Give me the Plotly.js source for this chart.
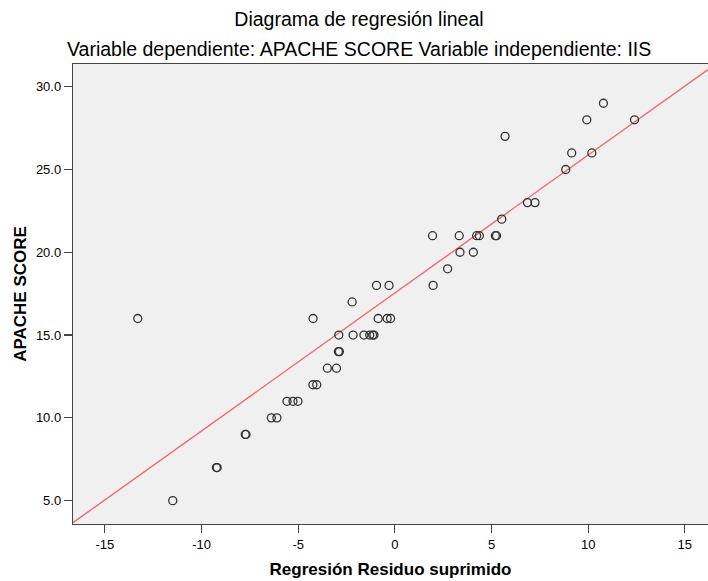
<!DOCTYPE html>
<html>
<head>
<meta charset="utf-8">
<script src="https://cdn.plot.ly/plotly-3.0.1.min.js"></script>
<style>
  html, body { margin: 0; padding: 0; background: #ffffff; }
  #chart { width: 708px; height: 581px; }
</style>
</head>
<body>
<div id="chart"></div>
<script>
// Suppressed (deleted) residual of the regression, per patient
const residuoSuprimido = [
  10.79,
  9.93, 12.40,
  5.70,
  9.15, 10.19,
  8.84,
  6.86, 7.25,
  5.53,
  1.95, 3.33, 4.23, 4.37, 5.20, 5.26,
  3.37, 4.06,
  2.73,
  -0.95, -0.30, 1.98,
  -2.21,
  -13.30, -4.23, -0.86, -0.40, -0.22,
  -2.90, -2.16, -1.60, -1.30, -1.15, -1.08,
  -2.92, -2.87,
  -3.49, -3.02,
  -4.24, -4.04,
  -5.58, -5.27, -5.01,
  -6.39, -6.10,
  -7.74, -7.70,
  -9.23, -9.19,
  -11.49
];

// APACHE score of the same patients
const apacheScore = [
  29,
  28, 28,
  27,
  26, 26,
  25,
  23, 23,
  22,
  21, 21, 21, 21, 21, 21,
  20, 20,
  19,
  18, 18, 18,
  17,
  16, 16, 16, 16, 16,
  15, 15, 15, 15, 15, 15,
  14, 14,
  13, 13,
  12, 12,
  11, 11, 11,
  10, 10,
  9, 9,
  7, 7,
  5
];

// Fitted line: APACHE SCORE = intercept + slope * residual
const ajusteIntercepto = 17.54;
const ajustePendiente = 0.833;

const xTicks = [-15, -10, -5, 0, 5, 10, 15];
const yTicks = [5, 10, 15, 20, 25, 30];

const xRange = [-16.65, 16.2];
const yRange = [3.59, 31.37];

const lineX = xRange.slice();
const lineY = lineX.map(v => ajusteIntercepto + ajustePendiente * v);

const fontFamily = '"Liberation Sans", Arial, sans-serif';

const traces = [
  {
    type: 'scatter',
    mode: 'lines',
    x: lineX,
    y: lineY,
    line: { color: '#f06a6a', width: 1.4 },
    hoverinfo: 'skip',
    showlegend: false
  },
  {
    type: 'scatter',
    mode: 'markers',
    x: residuoSuprimido,
    y: apacheScore,
    marker: {
      symbol: 'circle-open',
      size: 8,
      color: '#333333',
      line: { color: '#333333', width: 1.3 }
    },
    showlegend: false
  }
];

const layout = {
  width: 708,
  height: 581,
  margin: { l: 73, r: 0, t: 64, b: 57 },
  paper_bgcolor: '#ffffff',
  plot_bgcolor: '#f0f0f0',
  font: { family: fontFamily, color: '#000000', size: 13 },
  title: {
    text: 'Diagrama de regresión lineal',
    font: { family: fontFamily, size: 19.5, color: '#000000' },
    xref: 'container', x: 0.507, xanchor: 'center',
    yref: 'container', y: 1 - 19 / 581, yanchor: 'middle'
  },
  annotations: [
    {
      text: 'Variable dependiente: APACHE SCORE Variable independiente: IIS',
      font: { family: fontFamily, size: 19.5, color: '#000000' },
      xref: 'paper', yref: 'paper',
      x: (359 - 73) / 635, xanchor: 'center',
      y: (524 - 49) / 460, yanchor: 'middle',
      showarrow: false
    }
  ],
  xaxis: {
    range: xRange,
    tickmode: 'array',
    tickvals: xTicks,
    ticktext: xTicks.map(String),
    showgrid: false,
    zeroline: false,
    showline: true,
    mirror: true,
    linecolor: '#444444',
    linewidth: 1.2,
    ticks: 'outside',
    ticklen: 8,
    tickcolor: '#444444',
    tickwidth: 1.2,
    tickfont: { family: fontFamily, size: 13, color: '#000000' },
    title: {
      text: '<b>Regresión Residuo suprimido</b>',
      font: { family: fontFamily, size: 17, color: '#000000' },
      standoff: 12
    }
  },
  yaxis: {
    range: yRange,
    tickmode: 'array',
    tickvals: yTicks,
    ticktext: yTicks.map(v => v.toFixed(1)),
    showgrid: false,
    zeroline: false,
    showline: true,
    mirror: true,
    linecolor: '#444444',
    linewidth: 1.2,
    ticks: 'outside',
    ticklen: 8,
    tickcolor: '#444444',
    tickwidth: 1.2,
    tickfont: { family: fontFamily, size: 13, color: '#000000' },
    title: {
      text: '<b>APACHE SCORE</b>',
      font: { family: fontFamily, size: 17, color: '#000000' },
      standoff: 5
    }
  }
};

Plotly.newPlot('chart', traces, layout, { displayModeBar: false, staticPlot: true });
</script>
</body>
</html>
